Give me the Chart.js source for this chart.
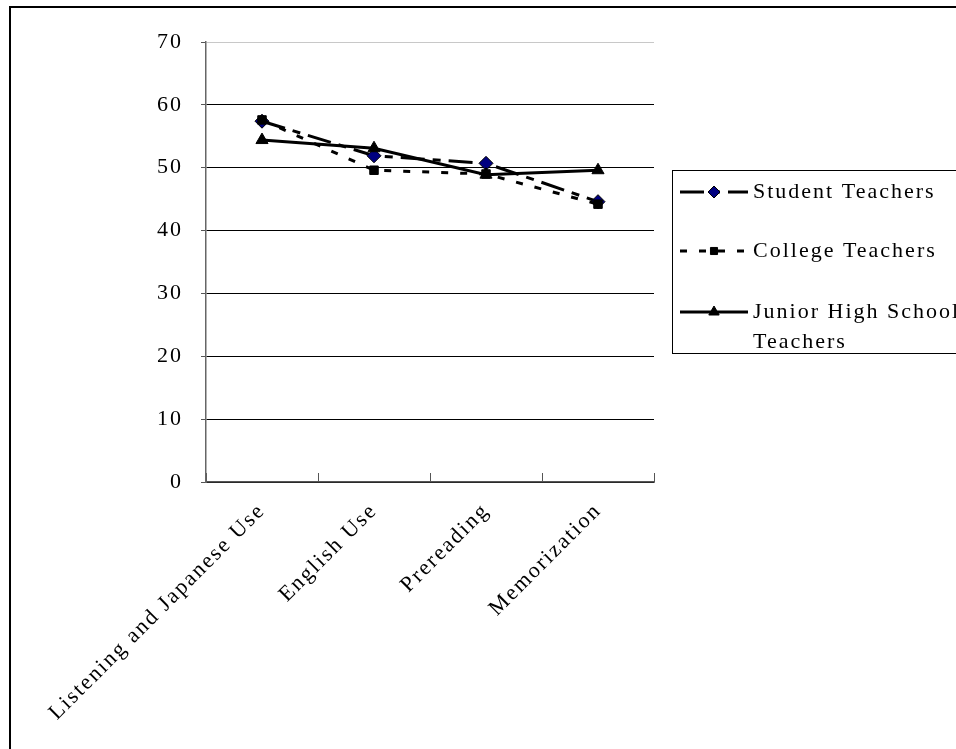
<!DOCTYPE html>
<html>
<head>
<meta charset="utf-8">
<script src="https://cdn.jsdelivr.net/npm/chart.js@4.4.0/dist/chart.umd.min.js"></script>
<style>
  html, body { margin: 0; padding: 0; background: #fff; overflow: hidden; }
  #frame { position: absolute; left: 9px; top: 6px; width: 1000px; height: 800px; border: 2px solid #000; }
  #wrap { position: absolute; left: 0; top: 0; width: 956px; height: 749px; }
</style>
</head>
<body>
<div id="frame"></div>
<div id="wrap"><canvas id="chart"></canvas></div>
<script>
// categories & values
const categories = ["Listening and Japanese Use", "English Use", "Prereading", "Memorization"];
const studentTeachers = [57.4, 51.9, 50.7, 44.6];
const collegeTeachers = [57.6, 49.6, 49.0, 44.2];
const juniorHighTeachers = [54.4, 53.1, 48.9, 49.6];
const seriesNames = ["Student Teachers", "College Teachers", "Junior High School Teachers"];
const legendLines = [["Student Teachers"], ["College Teachers"], ["Junior High School", "Teachers"]];
const yTicks = [0, 10, 20, 30, 40, 50, 60, 70];

const FONT = { family: "'Liberation Serif', 'DejaVu Serif', serif", size: 22 };
const LETTER = "2px";

// spacing des lettres, un peu comme l'original
const spacing = {
  id: "spacing",
  beforeInit(chart) { chart.ctx.letterSpacing = LETTER; },
  beforeDraw(chart) { chart.ctx.letterSpacing = LETTER; }
};

// legende dessinee a la main (boite a droite)
const legendBox = {
  id: "legendBox",
  afterDraw(chart) {
    const ctx = chart.ctx;
    ctx.save();
    ctx.fillStyle = "#fff";
    ctx.strokeStyle = "#000";
    ctx.lineWidth = 1;
    ctx.fillRect(672.5, 170.5, 320, 183);
    ctx.strokeRect(672.5, 170.5, 320, 183);
    const rows = [192, 251, 312];
    chart.data.datasets.forEach((ds, i) => {
      const y = rows[i];
      ctx.setLineDash(ds.borderDash || []);
      ctx.lineWidth = ds.borderWidth;
      ctx.strokeStyle = ds.borderColor;
      ctx.beginPath();
      ctx.moveTo(680, y);
      ctx.lineTo(748, y);
      ctx.stroke();
      ctx.setLineDash([]);
      ctx.fillStyle = ds.pointBackgroundColor;
      ctx.strokeStyle = ds.pointBorderColor;
      ctx.lineWidth = ds.pointBorderWidth;
      Chart.helpers.drawPoint(ctx, {
        pointStyle: ds.pointStyle, radius: ds.pointRadius - 1,
        borderWidth: ds.pointBorderWidth, rotation: 0
      }, 714, y);
      ctx.fillStyle = "#000";
      ctx.font = FONT.size + "px " + FONT.family;
      ctx.textBaseline = "middle";
      ctx.textAlign = "left";
      legendLines[i].forEach((t, k) => ctx.fillText(t, 753, y + k * 30));
    });
    ctx.restore();
  }
};

const ctx = document.getElementById("chart").getContext("2d");
const chart = new Chart(ctx, {
  type: "line",
  data: {
    labels: categories,
    datasets: [{
      label: seriesNames[0],
      data: studentTeachers,
      borderColor: "#000",
      borderWidth: 3,
      borderDash: [24, 8, 8, 8],
      pointStyle: "rectRot",
      pointRadius: 7,
      pointBackgroundColor: "#000080",
      pointBorderColor: "#000",
      pointBorderWidth: 1,
      order: 2
    }, {
      label: seriesNames[1],
      data: collegeTeachers,
      borderColor: "#000",
      borderWidth: 3,
      borderDash: [7, 12],
      pointStyle: "rect",
      pointRadius: 6,
      pointBackgroundColor: "#000",
      pointBorderColor: "#000",
      pointBorderWidth: 1,
      order: 1
    }, {
      label: seriesNames[2],
      data: juniorHighTeachers,
      borderColor: "#000",
      borderWidth: 3,
      pointStyle: "triangle",
      pointRadius: 7,
      pointBackgroundColor: "#000",
      pointBorderColor: "#000",
      pointBorderWidth: 1,
      order: 0
    }]
  },
  options: {
    responsive: true,
    maintainAspectRatio: false,
    animation: false,
    layout: { padding: { top: 42, right: 302, bottom: 0, left: 0 } },
    plugins: { legend: { display: false }, tooltip: { enabled: false } },
    elements: { line: { tension: 0 } },
    scales: {
      x: {
        offset: true,
        grid: { drawOnChartArea: false, drawTicks: true, tickLength: -9, offset: true, color: "#555" },
        border: { color: "#555", width: 1.5 },
        ticks: { minRotation: 45, maxRotation: 45, padding: 25, color: "#000", font: FONT },
        afterFit(s) { s.height = 267; }
      },
      y: {
        min: 0,
        max: 70,
        afterBuildTicks(s) { s.ticks = yTicks.map(v => ({ value: v })); },
        grid: {
          color: c => (c.tick.value === 70 ? "#c8c8c8" : "#000"),
          tickColor: "#555",
          tickLength: 5
        },
        border: { color: "#666", width: 1.5 },
        ticks: { padding: 18, color: "#000", font: FONT },
        afterFit(s) { s.width = 206; }
      }
    }
  },
  plugins: [spacing, legendBox]
});
</script>
</body>
</html>
